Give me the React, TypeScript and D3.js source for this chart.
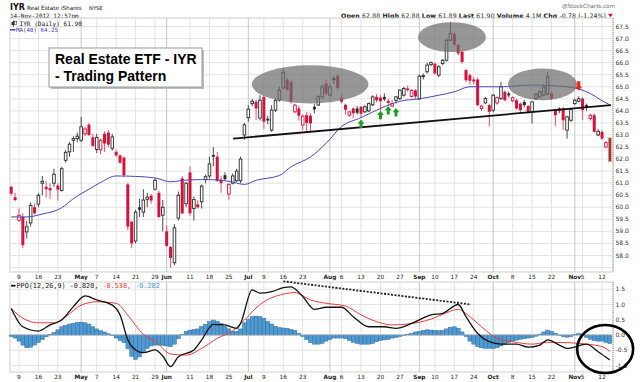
import React from 'react';
import * as d3 from 'd3';

// ---------- DATA ----------
const firstDay = '2012-04-04';
const lastDay = '2012-11-14';
const holidays = ['2012-04-06', '2012-05-28', '2012-07-04', '2012-09-03', '2012-10-29', '2012-10-30'];

const opens = [
60.85,60.42,59.46,59.6,58.98,59.35,60.0,60.13,61.0,60.85,
60.8,61.0,60.9,60.7,61.95,62.3,62.78,62.85,62.78,63.05,
63.43,62.9,62.4,62.38,63.05,63.1,62.45,62.3,62.15,62.06,
60.95,59.4,58.6,60.0,59.8,60.33,60.48,60.75,60.6,59.67,
59.0,58.35,57.7,59.55,61.2,60.15,61.45,59.95,60.12,60.23,
61.15,61.3,62.17,62.1,61.15,61.33,60.55,61.0,61.1,61.1,
63.0,63.72,64.3,64.38,63.7,64.58,63.67,63.2,64.03,64.45,
64.95,65.3,65.2,63.96,64.1,63.41,63.82,63.8,64.17,64.24,
64.58,65.14,64.65,65.3,65.45,64.55,64.25,63.82,64.1,64.1,
64.17,63.96,64.0,64.25,64.58,64.55,64.58,64.42,64.2,64.44,
64.51,64.65,64.93,64.6,64.85,64.5,65.42,65.62,65.92,65.96,
65.48,65.96,66.1,66.93,67.2,66.73,66.45,65.69,65.48,65.3,
65.3,64.1,64.33,64.24,64.03,64.33,64.51,64.79,64.72,64.42,
64.44,64.3,64.37,64.2,63.96,64.51,64.6,64.65,64.7,64.72,
64.03,64.1,64.1,63.2,63.61,64.3,64.4,64.51,64.24,63.68,
63.82,63.0,63.13,62.5,62.88];

const highs = [
60.9,60.6,59.95,59.75,59.44,60.2,60.15,60.6,61.3,61.1,
61.0,61.6,61.0,61.68,62.38,62.7,62.95,63.1,63.75,63.35,
63.5,63.05,63.05,62.85,63.15,63.2,63.05,62.4,62.2,62.1,
61.0,59.45,59.9,60.35,60.75,60.6,60.55,61.2,60.7,60.3,
59.25,58.4,59.3,60.65,61.3,61.05,61.7,60.45,60.3,60.95,
61.35,62.1,62.5,62.3,61.3,61.45,61.0,61.4,61.6,62.1,
63.5,64.24,64.5,64.45,64.65,64.65,63.8,64.24,64.5,65.0,
65.76,65.4,65.3,64.3,64.2,63.85,63.95,63.9,64.3,64.65,
65.1,65.3,65.1,65.45,65.55,64.7,64.3,64.0,64.15,64.2,
64.2,64.25,64.35,64.65,64.7,64.65,64.72,64.5,64.45,64.62,
64.9,65.0,65.05,64.9,64.9,65.5,65.55,66.0,66.05,66.0,
65.9,66.15,67.0,67.69,67.3,66.8,66.5,65.75,65.55,65.4,
65.38,64.25,64.58,64.3,64.7,64.6,65.2,64.85,64.8,64.6,
64.5,64.35,64.45,64.25,64.4,64.75,64.85,65.1,65.62,64.8,
64.1,64.15,64.15,63.8,64.1,64.5,64.6,64.55,64.3,63.88,
63.9,63.25,63.2,62.75,62.88];

const lows = [
60.5,60.25,59.4,58.3,58.7,59.2,59.7,60.0,60.5,60.4,
60.35,60.85,60.28,60.65,61.85,62.1,62.3,62.7,62.7,62.95,
62.95,62.5,62.25,62.2,62.3,62.5,62.35,62.1,61.8,61.25,
59.05,58.3,58.5,59.6,59.6,60.0,60.15,60.7,59.55,59.0,
58.35,57.5,57.6,59.45,59.7,60.0,59.65,59.45,59.95,59.95,
61.0,61.2,61.7,61.05,60.6,61.1,60.3,60.95,61.05,61.0,
62.8,63.55,64.2,63.62,63.6,63.25,63.45,63.13,63.95,64.38,
64.9,64.8,64.3,63.9,63.6,63.2,63.15,63.15,63.9,64.2,
64.5,64.65,64.6,65.1,64.85,64.3,63.85,63.75,63.7,63.85,
63.7,63.9,63.95,64.2,64.35,64.0,64.4,64.2,64.15,64.3,
64.45,64.6,64.8,64.55,64.5,64.45,65.3,65.55,65.85,65.5,
65.4,65.9,66.05,66.9,66.7,66.3,65.95,65.2,65.1,65.1,
64.2,64.0,64.3,63.36,63.95,64.25,64.45,64.4,64.55,64.35,
64.05,63.9,64.15,63.9,63.47,64.45,64.5,64.6,64.65,64.45,
63.36,63.9,63.2,62.85,63.55,64.25,64.35,63.61,64.0,63.6,
63.1,62.95,62.8,62.45,61.89];

const closes = [
60.57,60.3,59.67,58.43,59.19,60.08,59.75,60.5,61.08,60.75,
60.7,61.37,60.73,61.6,62.28,62.62,62.85,62.95,63.34,63.25,
63.0,62.55,62.9,62.78,62.65,62.6,62.92,62.15,61.85,61.33,
59.2,58.5,59.8,59.9,60.3,60.42,60.28,61.12,59.6,60.0,
58.4,57.9,59.15,60.5,59.75,61.0,59.75,60.32,60.0,60.88,
61.27,61.8,62.1,61.1,61.0,61.17,60.95,61.3,61.5,62.0,
63.42,64.07,64.4,64.1,64.44,63.55,63.6,64.03,64.44,64.86,
65.6,64.88,64.38,64.24,63.8,63.78,63.5,63.48,64.06,64.58,
65.0,64.72,65.0,65.34,64.95,64.38,64.05,63.96,63.9,63.92,
63.88,64.17,64.3,64.58,64.44,64.4,64.48,64.33,64.3,64.58,
64.86,64.93,64.86,64.85,64.6,65.44,65.46,65.9,66.0,65.55,
65.83,66.1,66.93,67.21,66.75,66.38,66.03,65.27,65.25,65.22,
64.24,64.2,64.51,63.96,64.65,64.55,65.0,64.44,64.64,64.55,
64.1,64.03,64.24,63.96,64.37,64.69,64.79,65.0,65.41,64.51,
63.82,64.0,63.61,63.75,64.06,64.44,64.5,64.03,64.14,63.82,
63.13,63.15,62.85,62.68,61.90];

// MA(40) read at selected days (trading-day index, value)
const maIdx = [0,4,8,13,16,20,23,27,32,37,41,45,50,56,60,63,69,72,77,81,85,90,95,100,105,110,114,118,126,134,143,149,152,154];
const maVal = [59.6,59.6,59.72,59.98,60.36,60.75,61.03,61.3,61.28,61.22,61.06,61.13,61.15,61.08,60.95,61.12,61.32,61.68,62.09,62.65,63.35,63.72,64.1,64.4,64.5,64.65,64.79,65.0,65.0,65.07,65.0,64.72,64.42,64.25];

// PPO line
const ppoIdx = [0,3,7,10,13,16,19,22,26,28,30,32,34,37,39,41,43,47,49,52,55,58,59,62,64,67,70,72,75,78,81,85,88,92,96,99,103,108,111,115,117,120,123,126,130,133,136,138,141,143,148,151,154];
const ppoVal = [0.87,0.27,0.13,0.33,0.49,0.93,1.28,1.15,0.98,0.66,-0.16,-0.49,-0.58,-0.49,-0.69,-1.04,-0.71,-0.49,-0.16,0.35,0.33,0.22,0.38,1.48,1.37,1.42,1.55,1.58,1.26,0.84,0.91,0.91,0.6,0.27,0.27,0.22,0.38,0.66,0.71,1.0,0.6,0.05,-0.22,-0.3,-0.3,-0.4,-0.33,-0.16,-0.33,-0.44,-0.3,-0.55,-0.82];
// Signal line
const sigIdx = [0,3,7,11,14,18,22,27,30,32,34,37,41,45,49,53,57,60,64,70,73,77,81,86,90,94,98,102,108,112,115,118,122,125,129,134,138,143,148,152,154];
const sigVal = [0.87,0.55,0.4,0.4,0.6,0.98,1.09,1.04,0.65,0.32,0.02,-0.2,-0.62,-0.66,-0.44,-0.11,0.14,0.49,1.0,1.34,1.39,1.15,1.04,0.95,0.66,0.44,0.33,0.36,0.52,0.73,0.84,0.6,0.16,-0.11,-0.22,-0.3,-0.24,-0.25,-0.3,-0.38,-0.54];
// Histogram (one per trading day)
const histVal = [
-0.05,-0.1,-0.2,-0.33,-0.42,-0.4,-0.33,-0.25,-0.15,-0.06,
0.02,0.08,0.17,0.27,0.32,0.36,0.38,0.41,0.42,0.4,
0.36,0.27,0.2,0.14,0.1,0.04,-0.02,-0.1,-0.18,-0.25,
-0.45,-0.7,-0.8,-0.72,-0.58,-0.44,-0.36,-0.33,-0.33,-0.34,
-0.36,-0.38,-0.3,-0.12,0.02,0.12,0.16,0.18,0.2,0.28,
0.35,0.44,0.49,0.45,0.38,0.28,0.2,0.12,0.12,0.2,
0.4,0.52,0.6,0.62,0.6,0.55,0.45,0.36,0.28,0.24,
0.23,0.22,0.18,0.15,0.05,-0.05,-0.15,-0.25,-0.3,-0.3,
-0.27,-0.2,-0.15,-0.1,-0.1,-0.1,-0.12,-0.18,-0.24,-0.28,
-0.3,-0.3,-0.3,-0.28,-0.22,-0.18,-0.16,-0.14,-0.1,-0.08,
-0.05,-0.02,0.02,0.05,0.1,0.12,0.15,0.17,0.16,0.15,
0.14,0.15,0.2,0.25,0.27,0.22,0.1,-0.05,-0.2,-0.3,
-0.38,-0.42,-0.44,-0.44,-0.44,-0.42,-0.36,-0.3,-0.25,-0.2,
-0.17,-0.14,-0.12,-0.1,-0.08,-0.04,0.03,0.1,0.16,0.12,
0.06,0.0,-0.05,-0.07,-0.05,0.02,0.05,0.03,-0.08,-0.14,
-0.18,-0.2,-0.2,-0.24,-0.28];

const tickDates = ['2012-04-09','2012-04-16','2012-04-23','2012-05-01','2012-05-07','2012-05-14','2012-05-21','2012-05-29','2012-06-01','2012-06-11','2012-06-18','2012-06-25','2012-07-02','2012-07-09','2012-07-16','2012-07-23','2012-08-01','2012-08-06','2012-08-13','2012-08-20','2012-08-27','2012-09-04','2012-09-10','2012-09-17','2012-09-24','2012-10-01','2012-10-08','2012-10-15','2012-10-22','2012-11-01','2012-11-05','2012-11-12'];
const tickLabels = ['9','16','23','May','7','14','21','29','Jun','11','18','25','Jul','9','16','23','Aug','6','13','20','27','Sep','10','17','24','Oct','8','15','22','Nov','5','12'];
const monthNames = ['May','Jun','Jul','Aug','Sep','Oct','Nov'];

const priceTicks = [58.0,58.5,59.0,59.5,60.0,60.5,61.0,61.5,62.0,62.5,63.0,63.5,64.0,64.5,65.0,65.5,66.0,66.5,67.0,67.5];
const priceGrid = [57.5, ...priceTicks];
const ppoTicks = [-1.0,-0.5,0.0,0.5,1.0,1.5];

// annotations (trading-day index / price)
const upArrowIdx = [90, 95, 97, 99];
const upArrowTip = [63.64, 64.0, 64.2, 64.12];
const downArrowIdx = [146];
const downArrowTip = [64.83];
const ellipseIdx = [76.9, 113.4, 136.7];
const ellipseHalfDays = [15.0, 8.75, 8.9];
const ellipsePrice = [65.1, 67.06, 65.1];
const ellipseHalfPrice = [0.79, 0.62, 0.66];
const trendIdx = [57.1, 154.3];
const trendPrice = [62.85, 64.24];
const ppoDashIdx = [70, 118.3];
const ppoDashVal = [1.76, 1.0];
const circleIdx = 152.8;
const circleVal = -0.46;

// ---------- LAYOUT ----------
const W = 640, H = 382;
const L = 10, R = 613, MT = 18, MB = 272, PT = 282, PB = 372;
const RED = '#d5123b';
const BLK = '#2a2a2a';
const FONT = 'DejaVu Sans, Verdana, sans-serif';
const MONO = 'DejaVu Sans Mono, monospace';

const parse = d3.utcParse('%Y-%m-%d');
const fmt = d3.utcFormat('%Y-%m-%d');
const days = d3.utcDay
  .range(parse(firstDay) as Date, d3.utcDay.offset(parse(lastDay) as Date, 1))
  .filter((d) => d.getUTCDay() !== 0 && d.getUTCDay() !== 6 && !holidays.includes(fmt(d)));
const dayKeys = days.map(fmt);

const x = d3.scaleLinear().domain([0, days.length - 1]).range([11.2, 609.8]);
const y = d3.scaleLinear().domain([58, 67.5]).range([255.5, 26.5]);
const yp = d3.scaleLinear().domain([-1, 1.5]).range([365.5, 289.25]);

const ticks = tickDates.map((d, k) => ({ i: dayKeys.indexOf(d), label: tickLabels[k], month: monthNames.includes(tickLabels[k]) }));

const maLine = d3.line<number>().x((d, k) => x(maIdx[k])).y((d) => y(d)).curve(d3.curveMonotoneX);
const ppoLine = d3.line<number>().x((d, k) => x(ppoIdx[k])).y((d) => yp(d)).curve(d3.curveMonotoneX);
const sigLine = d3.line<number>().x((d, k) => x(sigIdx[k])).y((d) => yp(d)).curve(d3.curveMonotoneX);

const step = x(1) - x(0);

function XLabels({ yy }: { yy: number }) {
  return (
    <g>
      {ticks.map((t, k) => (
        <text key={k} x={x(t.i)} y={yy} textAnchor="middle" fontFamily={FONT} fontSize={5.8}
          fontWeight={t.month ? 'bold' : 'normal'} fill="#222">{t.label}</text>
      ))}
    </g>
  );
}

function VGrid({ top, bottom }: { top: number; bottom: number }) {
  return (
    <g>
      {ticks.map((t, k) => (
        <line key={k} x1={x(t.i)} x2={x(t.i)} y1={top} y2={bottom}
          stroke={t.month ? '#c6c6c6' : '#e3e3e3'} strokeWidth={1} />
      ))}
    </g>
  );
}

export default function App() {
  const last = days.length - 1;
  return (
    <svg width={W} height={H} viewBox={`0 0 ${W} ${H}`} style={{ position: 'fixed', left: 0, top: 0, background: '#fff' }}>
      <rect x={0} y={0} width={W} height={H} fill="#fff" />

      {/* header */}
      <text x={10} y={9.5} fontFamily={FONT} fontSize={8} fontWeight="bold" fill="#111">IYR</text>
      <text x={27} y={9.5} fontFamily={FONT} fontSize={5.7} fill="#111">Real Estate iShares</text>
      <text x={89} y={9.5} fontFamily={FONT} fontSize={5.2} fill="#111">NYSE</text>
      <text x={10} y={17.6} fontFamily={MONO} fontSize={6} fill="#111">14-Nov-2012 12:57pm</text>
      <text x={615} y={7.5} textAnchor="end" fontFamily={FONT} fontSize={5.6} fill="#666">@StockCharts.com</text>
      <text x={341} y={17.5} fontFamily={FONT} fontSize={6.2} fill="#111" textLength={265} lengthAdjust="spacing">
        <tspan fontWeight="bold">Open</tspan> 62.88  <tspan fontWeight="bold">High</tspan> 62.88  <tspan fontWeight="bold">Low</tspan> 61.89  <tspan fontWeight="bold">Last</tspan> 61.90  <tspan fontWeight="bold">Volume</tspan> 4.1M  <tspan fontWeight="bold">Chg</tspan> -0.78 (-1.24%)
      </text>
      <path d="M608,13.8 L613,13.8 L610.5,17.2 Z" fill={RED} />

      {/* main panel */}
      <rect x={L} y={MT} width={R - L} height={MB - MT} fill="#fff" stroke="#cfcfcf" />
      {priceGrid.map((p) => (
        <line key={p} x1={L} x2={R} y1={y(p)} y2={y(p)} stroke="#e3e3e3" />
      ))}
      <VGrid top={MT} bottom={MB} />
      <line x1={R} x2={R} y1={MT} y2={MB} stroke="#999" strokeDasharray="1,1" />
      {priceTicks.map((p) => (
        <text key={p} x={615.5} y={y(p) + 2} fontFamily={FONT} fontSize={6} fill="#333">{p.toFixed(1)}</text>
      ))}

      {/* candles */}
      {days.map((d, i) => {
        const o = opens[i], h = highs[i], l = lows[i], c = closes[i];
        const prev = i > 0 ? closes[i - 1] : Infinity;
        const col = c >= prev ? BLK : RED;
        const hollow = c >= o;
        const cx = x(i);
        const top = y(Math.max(o, c));
        const hgt = Math.max(1, y(Math.min(o, c)) - top);
        return (
          <g key={i}>
            <line x1={cx} x2={cx} y1={y(h)} y2={y(l)} stroke={col === RED ? '#e2546f' : '#4a4a4a'} strokeWidth={1} />
            {hollow ? (
              <rect x={cx - 1.3} y={top} width={2.6} height={hgt} fill="#fff" stroke={col} strokeWidth={0.9} />
            ) : (
              <rect x={cx - 1.5} y={top} width={3} height={hgt} fill={col}
                stroke={i === last ? '#8fd07a' : 'none'} strokeWidth={i === last ? 0.8 : 0} />
            )}
          </g>
        );
      })}

      {/* MA(40) */}
      <path d={maLine(maVal) || ''} fill="none" stroke="#4848b8" strokeWidth={1} />

      {/* trend line */}
      <line x1={x(trendIdx[0])} y1={y(trendPrice[0])} x2={x(trendIdx[1])} y2={y(trendPrice[1])} stroke="#111" strokeWidth={1.8} />

      {/* ellipses */}
      {ellipseIdx.map((e, k) => (
        <ellipse key={k} cx={x(e)} cy={y(ellipsePrice[k])} rx={ellipseHalfDays[k] * step}
          ry={y(ellipsePrice[k] - ellipseHalfPrice[k]) - y(ellipsePrice[k])} fill="#6f6f6f" opacity={0.72} />
      ))}

      {/* arrows */}
      {upArrowIdx.map((a, k) => {
        const cx = x(a), ty = y(upArrowTip[k]);
        return <path key={k} d={`M${cx},${ty} L${cx + 3.4},${ty + 4.2} L${cx + 1.5},${ty + 4.2} L${cx + 1.5},${ty + 8.4} L${cx - 1.5},${ty + 8.4} L${cx - 1.5},${ty + 4.2} L${cx - 3.4},${ty + 4.2} Z`} fill="#1f9c24" />;
      })}
      {downArrowIdx.map((a, k) => {
        const cx = x(a), ty = y(downArrowTip[k]);
        return <path key={k} d={`M${cx},${ty} L${cx + 3.5},${ty - 4.4} L${cx + 1.6},${ty - 4.4} L${cx + 1.6},${ty - 9.6} L${cx - 1.6},${ty - 9.6} L${cx - 1.6},${ty - 4.4} L${cx - 3.5},${ty - 4.4} Z`} fill="#ee2418" />;
      })}

      {/* legend main */}
      <g>
        <line x1={13.5} x2={13.5} y1={20.5} y2={26.5} stroke="#333" />
        <rect x={11.5} y={22} width={2.2} height={3} fill="#333" />
        <rect x={14.5} y={21.5} width={2.2} height={3} fill="#fff" stroke="#333" strokeWidth={0.6} />
        <text x={19.5} y={26} fontFamily={MONO} fontSize={6.1} fill="#111">IYR (Daily) 61.90</text>
        <line x1={10} x2={15.5} y1={29.8} y2={29.8} stroke="#3a3ab0" strokeWidth={1.4} />
        <text x={16} y={32} fontFamily={MONO} fontSize={5.8} fill="#3a3ab0">MA(40) 64.25</text>
      </g>

      {/* text box */}
      <rect x={51} y={50} width={153} height={39} fill="#bdbdbd" />
      <rect x={49} y={48} width={153} height={39} fill="#fff" stroke="#9a9a9a" strokeWidth={1} />
      <text x={55} y={64} fontFamily="Liberation Sans, Arial, sans-serif" fontWeight="bold" fontSize={14} fill="#000">Real Estate ETF - IYR</text>
      <text x={55} y={81} fontFamily="Liberation Sans, Arial, sans-serif" fontWeight="bold" fontSize={14} fill="#000">- Trading Pattern</text>

      {/* x labels between panels */}
      <XLabels yy={279.2} />

      {/* PPO panel */}
      <rect x={L} y={PT} width={R - L} height={PB - PT} fill="#fff" stroke="#cfcfcf" />
      {ppoTicks.map((v) => (
        <line key={v} x1={L} x2={R} y1={yp(v)} y2={yp(v)} stroke="#e3e3e3" />
      ))}
      <VGrid top={PT} bottom={PB} />
      <line x1={R} x2={R} y1={PT} y2={PB} stroke="#999" strokeDasharray="1,1" />
      {ppoTicks.map((v) => (
        <text key={v} x={615.5} y={yp(v) + 2} fontFamily={FONT} fontSize={6} fill="#333">{v.toFixed(1)}</text>
      ))}
      {histVal.map((v, i) => (
        <rect key={i} x={x(i) - step / 2} width={step} y={Math.min(yp(v), yp(0))}
          height={Math.max(0.5, Math.abs(yp(v) - yp(0)))} fill="#4f98d0" stroke="#2d6fa3" strokeWidth={0.5} />
      ))}
      <line x1={L} x2={R} y1={yp(0)} y2={yp(0)} stroke="#bbb" strokeWidth={0.6} />
      <path d={sigLine(sigVal) || ''} fill="none" stroke="#ef3b3b" strokeWidth={1} />
      <path d={ppoLine(ppoVal) || ''} fill="none" stroke="#111" strokeWidth={1.3} />
      <line x1={x(ppoDashIdx[0])} y1={yp(ppoDashVal[0])} x2={x(ppoDashIdx[1])} y2={yp(ppoDashVal[1])}
        stroke="#222" strokeWidth={1.8} strokeDasharray="2,1.5" />
      <ellipse cx={x(circleIdx)} cy={yp(circleVal)} rx={28} ry={24} fill="none" stroke="#000" strokeWidth={2.6} />
      <rect x={11} y={284.8} width={4.5} height={1.8} fill="#111" />
      <text x={16.5} y={288} fontFamily={MONO} fontSize={6.8} fill="#111">
        PPO(12,26,9) -0.820, <tspan fill="#ee3333">-0.538,</tspan> <tspan fill="#3b9ad8">-0.282</tspan>
      </text>

      <XLabels yy={379.2} />
    </svg>
  );
}
